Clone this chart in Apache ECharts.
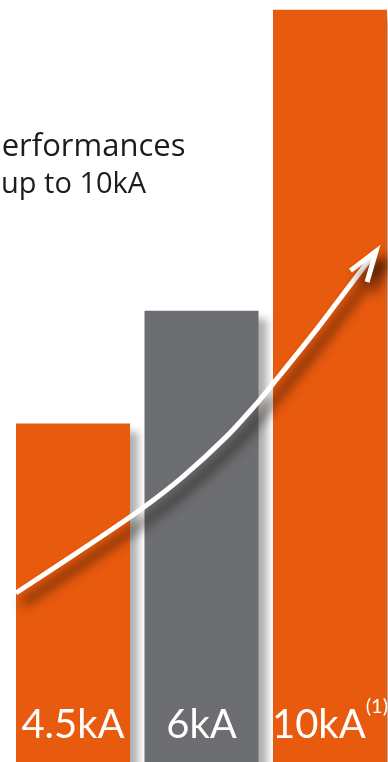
<!DOCTYPE html>
<html>
<head>
<meta charset="utf-8">
<script src="https://cdn.jsdelivr.net/npm/echarts@6/dist/echarts.min.js"></script>
<style>
  html, body { margin: 0; padding: 0; background: #ffffff; }
  #chart { width: 388px; height: 762px; }
</style>
</head>
<body>
<div id="chart"></div>
<script>
// Short-circuit breaking capacity ratings
const categories = ['4.5kA', '6kA', '10kA'];
const ratings = [4.5, 6, 10];
const footnotes = ['', '', '(1)'];

// Trend arrow path: x in category units (0..3), y in kA
const trendX = [0.056, 0.710, 1.045, 1.356, 1.698, 1.932, 2.056, 2.399, 2.656, 2.858];
const trendY = [2.247, 2.984, 3.379, 3.794, 4.332, 4.771, 5.027, 5.758, 6.338, 6.789];

const headline = ['Performances', 'up to 10kA'];

const ORANGE = '#e85a0e';
const GREY = '#6d6e71';
const barColors = [ORANGE, GREY, ORANGE];

const chart = echarts.init(document.getElementById('chart'), null, { renderer: 'canvas' });

const barData = ratings.map((v, i) => ({
  value: v,
  itemStyle: { color: barColors[i] }
}));

const trendData = trendX.map((x, i) => [x, trendY[i]]);

chart.setOption({
  animation: false,
  grid: {
    left: 8.75, width: 385.5, top: 0, bottom: 0,
    containLabel: false, outerBoundsMode: 'none'
  },
  xAxis: [
    { type: 'category', data: categories, show: false, boundaryGap: true },
    { type: 'value', min: 0, max: 3, show: false }
  ],
  yAxis: { type: 'value', min: 0, max: 10.13, show: false },
  series: [
    {
      type: 'bar',
      data: barData,
      barWidth: 114,
      itemStyle: {
        shadowColor: 'rgba(0,0,0,0.32)',
        shadowBlur: 8,
        shadowOffsetX: 8,
        shadowOffsetY: 8
      },
      label: {
        show: true,
        position: 'insideBottom',
        distance: 8,
        color: '#ffffff',
        fontFamily: 'Lato',
        fontWeight: 400,
        fontSize: 40,
        lineHeight: 57,
        formatter: p => footnotes[p.dataIndex]
          ? categories[p.dataIndex] + '{sup|' + footnotes[p.dataIndex] + '}'
          : categories[p.dataIndex],
        rich: {
          sup: {
            color: '#ffffff',
            fontFamily: 'Lato',
            fontWeight: 400,
            fontSize: 20,
            lineHeight: 22,
            verticalAlign: 'top'
          }
        }
      },
      z: 2
    },
    {
      type: 'custom',
      xAxisIndex: 1,
      data: [0],
      z: 5,
      renderItem: (params, api) => {
        const pts = trendData.map(d => api.coord(d));
        const tip = pts[pts.length - 1];
        const prev = pts[pts.length - 2];
        const ang = Math.atan2(prev[1] - tip[1], prev[0] - tip[0]) - 0.05;
        const len = 32, spread = 0.32;
        const head = [
          [tip[0] + len * Math.cos(ang + spread), tip[1] + len * Math.sin(ang + spread)],
          tip,
          [tip[0] + len * Math.cos(ang - spread), tip[1] + len * Math.sin(ang - spread)]
        ];
        const style = {
          fill: null,
          stroke: '#ffffff',
          lineWidth: 5,
          lineJoin: 'miter',
          lineCap: 'butt',
          shadowColor: 'rgba(20,8,0,0.85)',
          shadowBlur: 12,
          shadowOffsetX: 7,
          shadowOffsetY: 10
        };
        return {
          type: 'group',
          children: [
            { type: 'polyline', shape: { points: pts, smooth: 0.3 }, style: style },
            { type: 'polyline', shape: { points: head }, style: style }
          ]
        };
      }
    }
  ],
  graphic: [
    {
      type: 'text',
      left: -17,
      top: 132,
      style: {
        text: headline[0],
        fill: '#1c1c1c',
        font: '31px "Open Sans"'
      }
    },
    {
      type: 'text',
      left: 1,
      top: 170,
      style: {
        text: headline[1],
        fill: '#1c1c1c',
        font: '29px "Open Sans"'
      }
    }
  ]
});
</script>
</body>
</html>
